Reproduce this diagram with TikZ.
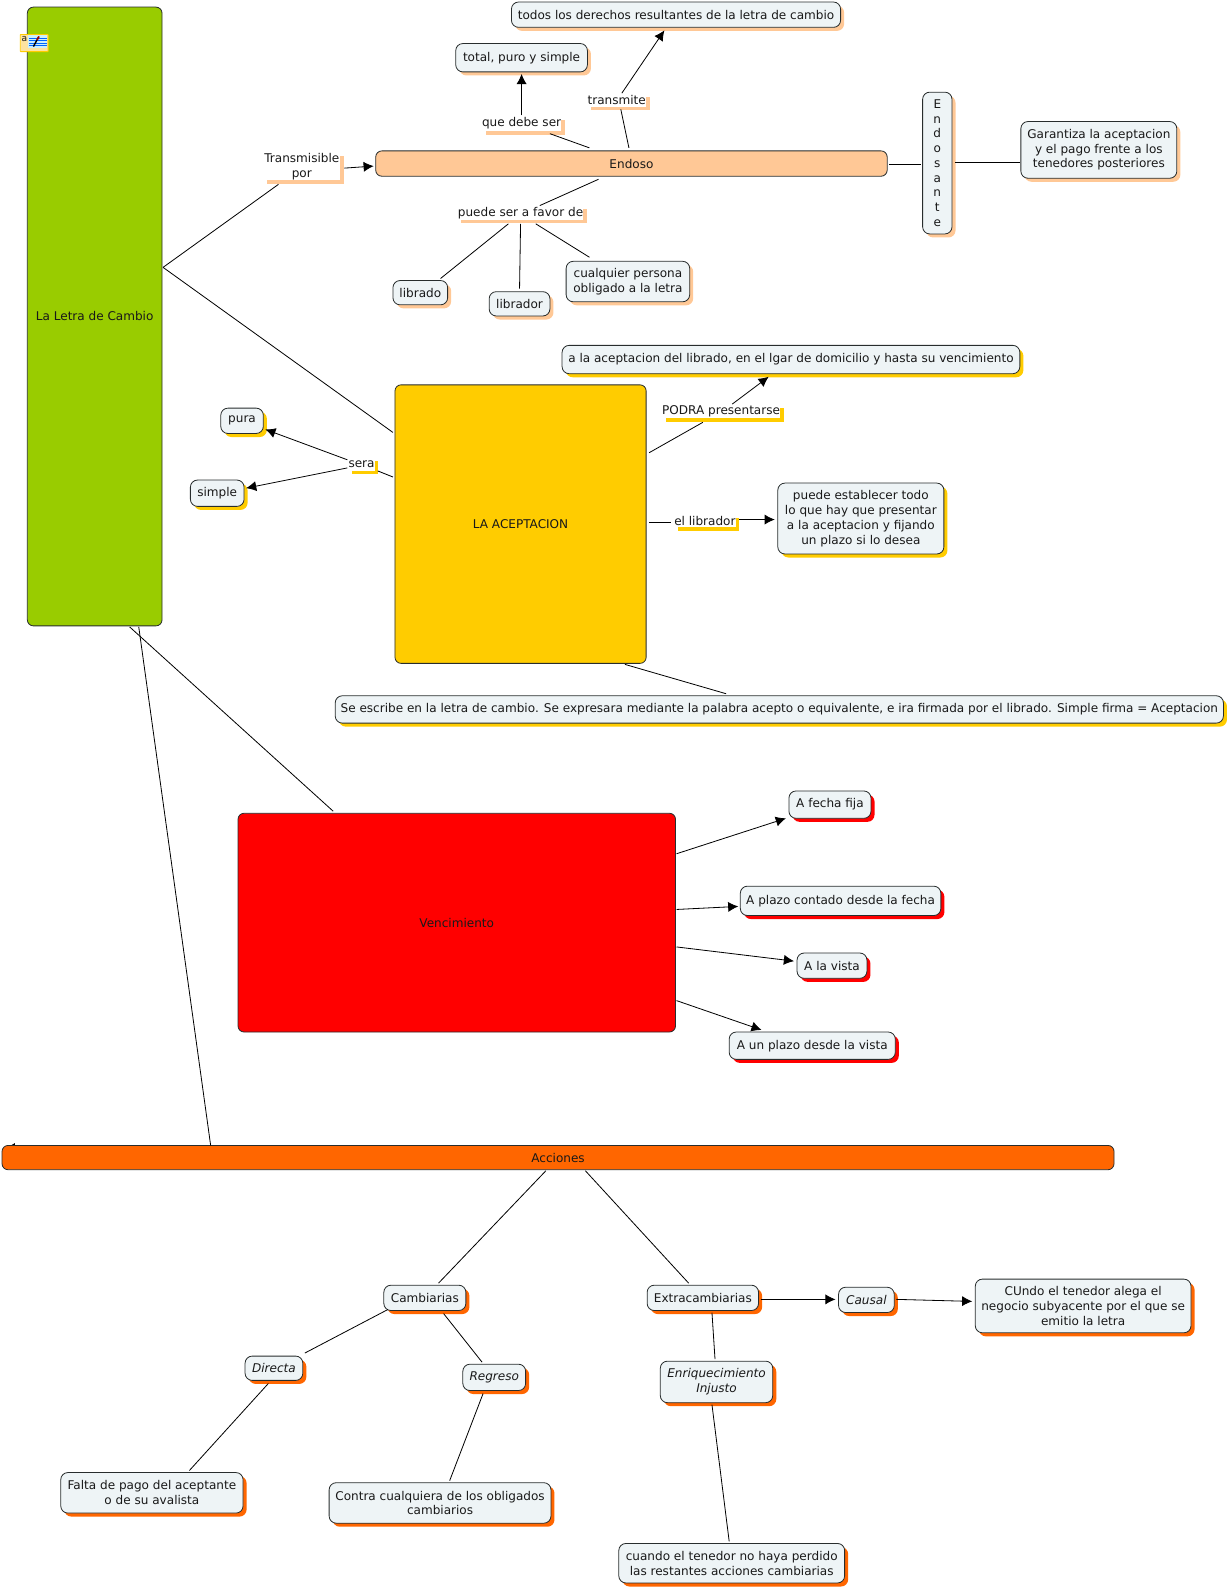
\documentclass[tikz,border=0pt]{standalone}
\usepackage{fontspec}
\setmainfont{DejaVu Sans}
\usetikzlibrary{arrows.meta,shadows,backgrounds}
\definecolor{letragreen}{RGB}{153,204,0}
\definecolor{endosopeach}{RGB}{255,200,150}
\definecolor{aceptyellow}{RGB}{255,204,0}
\definecolor{vencred}{RGB}{255,0,0}
\definecolor{accorange}{RGB}{255,102,0}
\definecolor{cajafill}{RGB}{238,244,246}
\definecolor{bordegray}{RGB}{40,45,45}

\begin{document}
\begin{tikzpicture}[
  x=1pt, y=-1pt,
  every node/.style={font=\fontsize{11.9}{14.6}\selectfont, align=center, inner sep=0pt, text=black!90},
  tema/.style={draw=bordegray, fill=#1, rounded corners=6pt, line width=0.8pt},
  caja/.style={draw=bordegray, fill=cajafill, rounded corners=7pt, line width=0.8pt,
               general shadow={fill=#1, draw=none, shadow xshift=3.5pt, shadow yshift=-3.5pt}},
  frase/.style={fill=white, general shadow={fill=#1, draw=none, shadow xshift=3.5pt, shadow yshift=-3.5pt}},
  linea/.style={line width=0.8pt, black},
  flecha/.style={-{Latex[length=10pt,width=10pt]}, line width=0.8pt, black}
]
\useasboundingbox (0,0) rectangle (1215,1568);

% temas
\node[tema=letragreen, minimum width=133pt, minimum height=611pt] (letra) at (93.5,312.5) {La Letra de Cambio};
\node[tema=endosopeach, minimum width=505pt, minimum height=25pt] (endoso) at (623.5,161.5) {Endoso};
\node[tema=aceptyellow, minimum width=248pt, minimum height=275pt] (acept) at (514,517.5) {LA ACEPTACION};
\node[tema=vencred, minimum width=432pt, minimum height=216pt] (venc) at (451,911) {Vencimiento};
\node[tema=accorange, minimum width=1098pt, minimum height=24pt] (acc) at (551,1143) {Acciones};

% endoso
\node[caja=endosopeach, minimum width=325pt, minimum height=25pt] (todos) at (667.5,14.5) {todos los derechos resultantes de la letra de cambio};
\node[caja=endosopeach, minimum width=130pt, minimum height=28pt] (total) at (515,57) {total, puro y simple};
\node[frase=endosopeach, minimum width=78pt, minimum height=15pt] (quedebe) at (515,122) {que debe ser};
\node[frase=endosopeach, minimum width=58pt, minimum height=13pt] (transmite) at (609,99) {transmite};
\node[frase=endosopeach, minimum width=76pt, minimum height=27pt] (transm) at (298,164.5) {Transmisible\\por};
\node[caja=endosopeach, minimum width=29pt, minimum height=140pt] (endosante) at (925.5,161) {E\\n\\d\\o\\s\\a\\n\\t\\e};
\node[caja=endosopeach, minimum width=154pt, minimum height=56pt] (garantiza) at (1085,148) {Garantiza la aceptacion\\y el pago frente a los\\tenedores posteriores};
\node[frase=endosopeach, minimum width=124pt, minimum height=14pt] (favor) at (514,210) {puede ser a favor de};
\node[caja=endosopeach, minimum width=54pt, minimum height=24pt] (librado) at (415,289) {librado};
\node[caja=endosopeach, minimum width=60pt, minimum height=24pt] (librador) at (513,300) {librador};
\node[caja=endosopeach, minimum width=122pt, minimum height=40pt] (cualquier) at (620,278) {cualquier persona\\obligado a la letra};

% aceptacion
\node[caja=aceptyellow, minimum width=452pt, minimum height=28pt] (ala) at (781,355) {a la aceptacion del librado, en el lgar de domicilio y hasta su vencimiento};
\node[frase=aceptyellow, minimum width=116pt, minimum height=14pt] (podra) at (712,406) {PODRA presentarse};
\node[frase=aceptyellow, minimum width=60pt, minimum height=13pt] (ellibrador) at (696,514) {el librador};
\node[caja=aceptyellow, minimum width=164pt, minimum height=70pt] (puedeest) at (850,512) {puede establecer todo\\lo que hay que presentar\\a la aceptacion y fijando\\un plazo si lo desea};
\node[caja=aceptyellow, minimum width=42pt, minimum height=25pt] (pura) at (239,415.5) {pura};
\node[caja=aceptyellow, minimum width=53pt, minimum height=26pt] (simple) at (214.5,487) {simple};
\node[frase=aceptyellow, minimum width=26pt, minimum height=13pt] (sera) at (357,458.5) {sera};
\node[caja=aceptyellow, minimum width=877pt, minimum height=27pt] (seescribe) at (769.5,700.5) {Se escribe en la letra de cambio. Se expresara mediante la palabra acepto o equivalente, e ira firmada por el librado. Simple firma = Aceptacion};

% vencimiento
\node[caja=vencred, minimum width=81pt, minimum height=27pt] (afecha) at (819.5,794.5) {A fecha fija};
\node[caja=vencred, minimum width=198pt, minimum height=29pt] (aplazo) at (830,889.5) {A plazo contado desde la fecha};
\node[caja=vencred, minimum width=69pt, minimum height=25pt] (alavista) at (821.5,953.5) {A la vista};
\node[caja=vencred, minimum width=164pt, minimum height=27pt] (aunplazo) at (802,1032.5) {A un plazo desde la vista};

% acciones
\node[caja=accorange, minimum width=81pt, minimum height=25pt] (cambiarias) at (419.5,1281.5) {Cambiarias};
\node[caja=accorange, minimum width=110pt, minimum height=25pt] (extra) at (694,1281.5) {Extracambiarias};
\node[caja=accorange, minimum width=55pt, minimum height=25pt] (causal) at (855.5,1283.5) {\itshape Causal};
\node[caja=accorange, minimum width=213pt, minimum height=53pt] (cundo) at (1069.5,1289.5) {CUndo el tenedor alega el\\negocio subyacente por el que se\\emitio la letra};
\node[caja=accorange, minimum width=57pt, minimum height=24pt] (directa) at (270.5,1351) {\itshape Directa};
\node[caja=accorange, minimum width=62pt, minimum height=26pt] (regreso) at (488,1360) {\itshape Regreso};
\node[caja=accorange, minimum width=111pt, minimum height=41pt] (enriq) at (707.5,1364.5) {\itshape Enriquecimiento\\\itshape Injusto};
\node[caja=accorange, minimum width=180pt, minimum height=40pt] (falta) at (150,1474) {Falta de pago del aceptante\\o de su avalista};
\node[caja=accorange, minimum width=219pt, minimum height=40pt] (contra) at (434.5,1484) {Contra cualquiera de los obligados\\cambiarios};
\node[caja=accorange, minimum width=223pt, minimum height=39pt] (cuando) at (722.5,1543.5) {cuando el tenedor no haya perdido\\las restantes acciones cambiarias};

% lineas sin punta
\foreach \from/\fx/\fy/\to/\tx/\ty in {
  letra/67.5/-48.5/transm/-23/17.5, letra/67.5/-48.5/acept/-126/-90.5,
  letra/34.5/306.5/venc/-122/-110, letra/43.5/306.5/acc/-343/-12,
  endoso/-41.5/-15.5/quedebe/28/10, endoso/-2.5/-15.5/transmite/4/9,
  endoso/-32.5/15.5/favor/19/-7, favor/-12/11/librado/20/-14,
  favor/0/11/librador/0/-15, favor/15/11/cualquier/-38/-24,
  endoso/254.5/0.5/endosante/-16.5/1, endosante/17.5/-1/garantiza/-78/12,
  acept/127/-70.5/podra/-18/11, acept/127/-1.5/ellibrador/-33/2,
  acept/-126/-46.5/sera/16/6.5, acept/103/138.5/seescribe/-52.5/-15.5,
  acc/-12/13/cambiarias/13.5/-14.5, acc/27/13/extra/-14/-14.5,
  cambiarias/-36.5/11.5/directa/30.5/-15, cambiarias/18.5/15.5/regreso/-12/-15,
  directa/-5.5/15/falta/37/-22, regreso/-11/16/contra/9.5/-22,
  extra/9/14.5/enriq/-1.5/-22.5, enriq/-4.5/22.5/cuando/-2.5/-21.5}
  \draw[linea] ([shift={(\fx,\fy)}]\from.center) -- ([shift={(\tx,\ty)}]\to.center);

% lineas con punta
\foreach \from/\fx/\fy/\to/\tx/\ty in {
  transm/42/1.5/endoso/-254.5/2.5, quedebe/0/-8/total/0/16,
  transmite/5/-7/todos/-11.5/15.5, podra/11/-7/ala/-22/17,
  ellibrador/34/-1/puedeest/-85/1, sera/-14/-4.5/pura/23/8.5,
  sera/-14/3.5/simple/28.5/-5, venc/217/-68/afecha/-43.5/13.5,
  venc/217/-13/aplazo/-101/5.5, venc/217/24/alavista/-37.5/-4.5,
  venc/217/77/aunplazo/-50/-15.5, extra/57/1.5/causal/-30.5/-0.5,
  causal/29.5/-0.5/cundo/-109.5/-4.5}
  \draw[flecha] ([shift={(\fx,\fy)}]\from.center) -- ([shift={(\tx,\ty)}]\to.center);

% punta bajo acciones
\begin{scope}[on background layer]
  \draw[flecha] ([shift={(14,3)}]acc.north west) -- ([shift={(3,3)}]acc.north west);
\end{scope}

% icono de la nota
\fill[draw=aceptyellow, fill=yellow!45!orange!35, rounded corners=0.5pt, line width=0.8pt] (20,34) rectangle (47.5,51);
\fill[white!80!cyan] (28,35) rectangle (46,47);
\foreach \ylin in {37.5,40,42.5,45}
  \draw[blue!60!cyan, line width=0.7pt] (29,\ylin) -- (46,\ylin);
\draw[black, line width=1.4pt] (33,46) -- (36.5,39.5);
\draw[red!60!black, line width=1.8pt] (36.5,39.5) -- (38.5,36);
\node[font=\fontsize{9}{10}\selectfont] (notaa) at (24,39) {a};
\end{tikzpicture}
\end{document}
